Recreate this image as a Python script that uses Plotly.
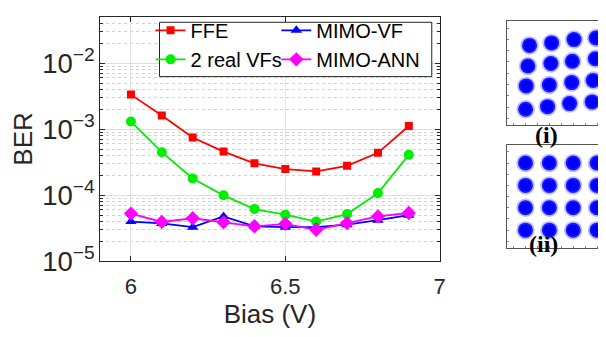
import plotly.graph_objects as go

# ---------------- data ----------------
bias = [6.0, 6.1, 6.2, 6.3, 6.4, 6.5, 6.6, 6.7, 6.8, 6.9]
ber_ffe = [3.35e-3, 1.62e-3, 7.5e-4, 4.6e-4, 3.05e-4, 2.5e-4, 2.3e-4, 2.8e-4, 4.4e-4, 1.12e-3]
ber_2vf = [1.31e-3, 4.5e-4, 1.8e-4, 1.0e-4, 6.2e-5, 5.1e-5, 4.0e-5, 5.2e-5, 1.08e-4, 4.1e-4]
ber_mimo_vf = [4.0e-5, 3.75e-5, 3.3e-5, 4.8e-5, 3.4e-5, 3.3e-5, 3.3e-5, 3.6e-5, 4.2e-5, 5.0e-5]
ber_mimo_ann = [5.3e-5, 3.95e-5, 4.5e-5, 3.9e-5, 3.4e-5, 3.7e-5, 3.0e-5, 3.8e-5, 4.8e-5, 5.4e-5]

x_ticks = [6, 6.5, 7]
x_tick_labels = ["6", "6.5", "7"]

# constellation (i): skewed 16-QAM cluster centres (I, Q)
const1_i = [-2.66, -0.81, 1.07, 2.92, -2.80, -0.87, 0.93, 2.86,
            -2.94, -1.00, 0.88, 2.68, -2.99, -1.15, 0.70, 2.59]
const1_q = [2.47, 2.69, 2.98, 3.12, 0.64, 0.86, 1.06, 1.29,
            -1.12, -1.03, -0.83, -0.64, -3.19, -2.96, -2.69, -2.54]
# constellation (ii): regular 16-QAM cluster centres
const2_i = [-3, -1, 1, 3] * 4
const2_q = [3] * 4 + [1] * 4 + [-1] * 4 + [-3] * 4

W, H = 606, 337
def px(x):
    return x / W
def py(y):
    return 1 - y / H

FONT = "Liberation Sans, Arial, sans-serif"
AX = "#262626"

fig = go.Figure()

series = [
    ("FFE", ber_ffe, "#ff0000", "square", 8, "legend", 1),
    ("2 real VFs", ber_2vf, "#00ee00", "circle", 10, "legend", 2),
    ("MIMO-VF", ber_mimo_vf, "#0000ff", "triangle-up", 10, "legend2", 1),
    ("MIMO-ANN", ber_mimo_ann, "#ff00ff", "diamond", 11, "legend2", 2),
]
for name, vals, col, sym, size, leg, rank in series:
    fig.add_trace(go.Scatter(
        x=bias, y=vals, name=name, mode="lines+markers",
        line=dict(color=col, width=1.8),
        marker=dict(symbol=sym, size=size, color=col, line=dict(width=0)),
        legend=leg, legendrank=rank,
        xaxis="x", yaxis="y",
    ))

for ci, cq, xa, ya in [(const1_i, const1_q, "x2", "y2"), (const2_i, const2_q, "x3", "y3")]:
    fig.add_trace(go.Scatter(
        x=ci, y=cq, mode="markers", showlegend=False,
        marker=dict(size=15, color="#0000ff",
                    line=dict(width=3.5, color="rgba(70,70,255,0.35)")),
        xaxis=xa, yaxis=ya, hoverinfo="skip",
    ))

panel_ax = dict(showticklabels=False, showgrid=False, zeroline=False,
                showline=True, linecolor="#555", mirror=True,
                ticks="inside", ticklen=2, tickcolor="#888", dtick=1)

fig.update_layout(
    width=W, height=H,
    margin=dict(l=0, r=0, t=0, b=0),
    paper_bgcolor="white", plot_bgcolor="white",
    font=dict(family=FONT, color=AX),
    showlegend=True,
    xaxis=dict(
        domain=[px(93), px(436)], range=[5.9, 7],
        tickvals=x_ticks, ticktext=x_tick_labels,
        ticks="inside", ticklen=5, tickcolor=AX,
        showline=True, linecolor=AX, linewidth=1, mirror="ticks",
        showgrid=True, gridcolor="#e3e3e3", gridwidth=1,
        zeroline=False, ticklabelstandoff=5,
        tickfont=dict(size=22, color=AX),
        title=dict(text="Bias (V)", font=dict(size=26, color=AX), standoff=6),
        anchor="y",
    ),
    yaxis=dict(
        domain=[py(266), py(9)], type="log", range=[-5, -1.293],
        dtick=1, exponentformat="power",
        ticks="inside", ticklen=5, tickcolor=AX,
        showline=True, linecolor=AX, linewidth=1, mirror="ticks",
        showgrid=True, gridcolor="#dcdcdc", gridwidth=1,
        minor=dict(dtick="D1", ticks="inside", ticklen=3, tickcolor=AX,
                   showgrid=True, gridcolor="#d2d2d2", griddash="dot"),
        zeroline=False,
        tickfont=dict(size=22, color=AX),
        title=dict(text="BER", font=dict(size=26, color=AX), standoff=8),
        anchor="x",
    ),
    xaxis2=dict(domain=[px(504), 1], range=[-4.55, 3.92], anchor="y2", **panel_ax),
    yaxis2=dict(domain=[py(123), py(14)], range=[-4.6, 4.6], anchor="x2", **panel_ax),
    xaxis3=dict(domain=[px(504), 1], range=[-4.55, 3.92], anchor="y3", **panel_ax),
    yaxis3=dict(domain=[py(252), py(144)], range=[-4.6, 4.6], anchor="x3", **panel_ax),
    legend=dict(x=px(144), y=py(3), xanchor="left", yanchor="top",
                bgcolor="rgba(0,0,0,0)", borderwidth=0,
                font=dict(size=20, color="black", family=FONT),
                tracegroupgap=0, itemwidth=30),
    legend2=dict(x=px(271), y=py(3), xanchor="left", yanchor="top",
                 bgcolor="rgba(0,0,0,0)", borderwidth=0,
                 font=dict(size=20, color="black", family=FONT),
                 tracegroupgap=0, itemwidth=30),
    shapes=[dict(type="rect", xref="paper", yref="paper",
                 x0=px(153), x1=px(428), y0=py(72), y1=py(15),
                 fillcolor="white", line=dict(color="#262626", width=1),
                 layer="above")],
    annotations=[
        dict(text="<b>(i)</b>", x=px(558), y=py(133), xref="paper", yref="paper",
             showarrow=False, font=dict(family="Liberation Serif, Times New Roman, serif",
                                        size=24, color="black")),
        dict(text="<b>(ii)</b>", x=px(558), y=py(263), xref="paper", yref="paper",
             showarrow=False, font=dict(family="Liberation Serif, Times New Roman, serif",
                                        size=24, color="black")),
    ],
)

fig.write_html("out.html")
